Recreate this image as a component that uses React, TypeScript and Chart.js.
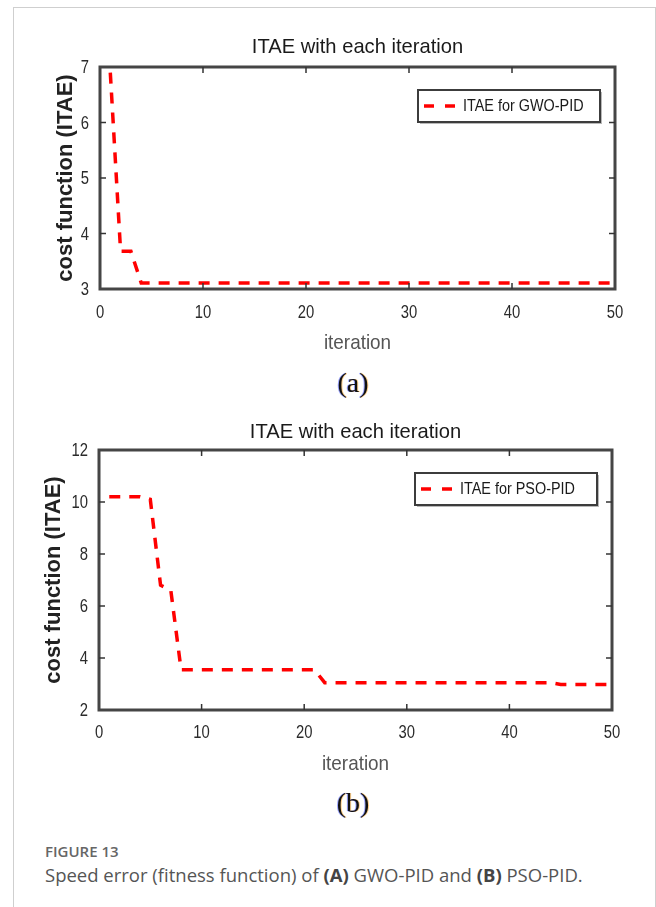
import React, { useEffect, useRef } from "react";
import { Chart, registerables } from "chart.js";

Chart.register(...registerables);

// ---------- data ----------
const iterations = [
  1, 2, 3, 4, 5, 6, 7, 8, 9, 10, 11, 12, 13, 14, 15, 16, 17, 18, 19, 20, 21, 22, 23, 24, 25,
  26, 27, 28, 29, 30, 31, 32, 33, 34, 35, 36, 37, 38, 39, 40, 41, 42, 43, 44, 45, 46, 47, 48, 49, 50,
];

const gwoValues = [
  6.9, 3.68, 3.68, 3.11, 3.11, 3.11, 3.11, 3.11, 3.11, 3.11,
  3.11, 3.11, 3.11, 3.11, 3.11, 3.11, 3.11, 3.11, 3.11, 3.11,
  3.11, 3.11, 3.11, 3.11, 3.11, 3.11, 3.11, 3.11, 3.11, 3.11,
  3.11, 3.11, 3.11, 3.11, 3.11, 3.11, 3.11, 3.11, 3.11, 3.11,
  3.11, 3.11, 3.11, 3.11, 3.11, 3.11, 3.11, 3.11, 3.11, 3.11,
];

const psoValues = [
  10.2, 10.2, 10.2, 10.2, 10.1, 6.8, 6.6, 3.55, 3.55, 3.55,
  3.55, 3.55, 3.55, 3.55, 3.55, 3.55, 3.55, 3.55, 3.55, 3.55,
  3.55, 3.05, 3.05, 3.05, 3.05, 3.05, 3.05, 3.05, 3.05, 3.05,
  3.05, 3.05, 3.05, 3.05, 3.05, 3.05, 3.05, 3.05, 3.05, 3.05,
  3.05, 3.05, 3.05, 3.05, 2.98, 2.98, 2.98, 2.98, 2.98, 2.98,
];

const xTickValues = [0, 10, 20, 30, 40, 50];
const gwoYTicks = [3, 4, 5, 6, 7];
const psoYTicks = [2, 4, 6, 8, 10, 12];

const chartTitle = "ITAE with each iteration";
const xAxisTitle = "iteration";
const yAxisTitle = "cost function (ITAE)";
const gwoLabel = "ITAE for GWO-PID";
const psoLabel = "ITAE for PSO-PID";
const panelLabels = ["(a)", "(b)"];
const figureLabel = "FIGURE 13";

// ---------- styling ----------
const SANS = "'Liberation Sans', Arial, sans-serif";
const RED = "#ff0000";

function scaledText(
  ctx: CanvasRenderingContext2D,
  text: string,
  x: number,
  y: number,
  font: string,
  sx: number,
  align: CanvasTextAlign,
  color: string
) {
  ctx.save();
  ctx.translate(x, y);
  ctx.scale(sx, 1);
  ctx.font = font;
  ctx.fillStyle = color;
  ctx.textAlign = align;
  ctx.textBaseline = "middle";
  ctx.fillText(text, 0, 0);
  ctx.restore();
}

const decorPlugin = {
  id: "decor",
  afterDraw(chart: any, _args: any, opts: any) {
    const { ctx, chartArea: a, scales } = chart;
    const xs = scales.x;
    const ys = scales.y;
    ctx.save();

    // title
    scaledText(ctx, opts.title, (a.left + a.right) / 2, opts.titleY, `21px ${SANS}`, 0.96, "center", "#1a1a1a");
    // x axis title
    scaledText(ctx, opts.xTitle, (a.left + a.right) / 2, a.bottom + opts.xTitleOffset, `21px ${SANS}`, 0.9, "center", "#555");

    // tick labels
    xs.ticks.forEach((t: any) => {
      const px = xs.getPixelForValue(t.value);
      scaledText(ctx, String(t.value), px, a.bottom + opts.xLabelOffset, `19px ${SANS}`, 0.78, "center", "#2b2b2b");
    });
    ys.ticks.forEach((t: any) => {
      const py = ys.getPixelForValue(t.value);
      scaledText(ctx, String(t.value), a.left - 11, py + 1, `19px ${SANS}`, 0.78, "right", "#2b2b2b");
    });

    // frame
    ctx.strokeStyle = "#454545";
    ctx.lineWidth = 3;
    ctx.strokeRect(a.left, a.top, a.right - a.left, a.bottom - a.top);

    // inward ticks on all four sides
    ctx.lineWidth = 1.5;
    ctx.strokeStyle = "#333";
    const seg = (x1: number, y1: number, x2: number, y2: number) => {
      ctx.beginPath();
      ctx.moveTo(x1, y1);
      ctx.lineTo(x2, y2);
      ctx.stroke();
    };
    xs.ticks.forEach((t: any) => {
      const px = xs.getPixelForValue(t.value);
      if (px <= a.left + 2 || px >= a.right - 2) return;
      seg(px, a.bottom, px, a.bottom - 6);
      seg(px, a.top, px, a.top + 6);
    });
    ys.ticks.forEach((t: any) => {
      const py = ys.getPixelForValue(t.value);
      if (py <= a.top + 2 || py >= a.bottom - 2) return;
      seg(a.left, py, a.left + 6, py);
      seg(a.right, py, a.right - 6, py);
    });

    // legend
    const ds = chart.data.datasets[0];
    const bw = 182;
    const bh = 32;
    const bx = a.right - opts.legendRight - bw;
    const by = a.top + opts.legendTop;
    ctx.fillStyle = "#b8b8b8";
    ctx.fillRect(bx + 2, by + 2, bw, bh);
    ctx.fillStyle = "#fff";
    ctx.fillRect(bx, by, bw, bh);
    ctx.strokeStyle = "#3c3c3c";
    ctx.lineWidth = 2;
    ctx.strokeRect(bx, by, bw, bh);
    ctx.strokeStyle = ds.borderColor;
    ctx.lineWidth = 3.5;
    ctx.setLineDash([10, 11]);
    seg(bx + 6, by + bh / 2, bx + 37, by + bh / 2);
    ctx.setLineDash([]);
    scaledText(ctx, ds.label, bx + 45, by + bh / 2 + 1, `16px ${SANS}`, 0.9, "left", "#1a1a1a");

    ctx.restore();
  },
};

type PanelProps = {
  top: number;
  height: number;
  values: number[];
  label: string;
  yTicks: number[];
  padRight: number;
  padTop: number;
  yAxisWidth: number;
  xAxisHeight: number;
  xLabelOffset: number;
  xTitleOffset: number;
  yTitlePad: number;
  titleY: number;
};

function Panel(p: PanelProps) {
  const ref = useRef<HTMLCanvasElement | null>(null);
  useEffect(() => {
    if (!ref.current) return;
    const yMin = p.yTicks[0];
    const yMax = p.yTicks[p.yTicks.length - 1];
    const chart = new Chart(ref.current, {
      type: "line",
      data: {
        datasets: [
          {
            label: p.label,
            data: iterations.map((it, i) => ({ x: it, y: p.values[i] })),
            borderColor: RED,
            borderWidth: 3.5,
            borderDash: [11, 9],
            borderCapStyle: "butt",
            pointRadius: 0,
            tension: 0,
            fill: false,
          },
        ],
      },
      options: {
        responsive: false,
        animation: false,
        devicePixelRatio: 1,
        layout: { padding: { left: 0, right: p.padRight, top: p.padTop, bottom: 0 } },
        plugins: {
          legend: { display: false },
          tooltip: { enabled: false },
          title: { display: false },
          decor: {
            title: chartTitle,
            xTitle: xAxisTitle,
            titleY: p.titleY,
            xLabelOffset: p.xLabelOffset,
            xTitleOffset: p.xTitleOffset,
            legendRight: 15,
            legendTop: 23,
          },
        } as any,
        scales: {
          x: {
            type: "linear",
            min: 0,
            max: 50,
            afterBuildTicks: (s: any) => {
              s.ticks = xTickValues.map((v) => ({ value: v }));
            },
            afterFit: (s: any) => {
              s.height = p.xAxisHeight;
            },
            grid: { display: false, drawTicks: false },
            border: { display: false },
            ticks: { display: false },
          },
          y: {
            type: "linear",
            min: yMin,
            max: yMax,
            afterBuildTicks: (s: any) => {
              s.ticks = p.yTicks.map((v) => ({ value: v }));
            },
            afterFit: (s: any) => {
              s.width = p.yAxisWidth;
            },
            grid: { display: false, drawTicks: false },
            border: { display: false },
            ticks: { display: false },
            title: {
              display: true,
              text: yAxisTitle,
              font: { family: SANS, size: 22, weight: "bold" },
              color: "#222",
              padding: { top: p.yTitlePad, bottom: 0 },
            },
          },
        },
      } as any,
      plugins: [decorPlugin as any],
    });
    return () => chart.destroy();
  }, []);
  return (
    <canvas
      ref={ref}
      width={656}
      height={p.height}
      style={{ position: "absolute", left: 0, top: p.top, width: 656, height: p.height, display: "block" }}
    />
  );
}

const centerText = (x: number, y: number): React.CSSProperties => ({
  position: "absolute",
  left: x,
  top: y,
  transform: "translate(-50%, -50%)",
  whiteSpace: "nowrap",
  lineHeight: 1,
});

const panelLabelStyle: React.CSSProperties = {
  font: "28px 'Liberation Serif', serif",
  color: "#111",
  textShadow: "-1px 0 rgba(40,60,255,0.45), 1px 0 rgba(255,150,0,0.45)",
};

export default function App() {
  return (
    <div
      style={{
        position: "absolute",
        left: 0,
        top: 0,
        width: 656,
        height: 907,
        overflow: "hidden",
        background: "#fff",
      }}
    >
      <div
        style={{
          position: "absolute",
          left: 13,
          top: 7,
          width: 643,
          height: 1000,
          border: "1px solid #cfcfcf",
          boxSizing: "border-box",
        }}
      />
      <Panel
        top={0}
        height={400}
        values={gwoValues}
        label={gwoLabel}
        yTicks={gwoYTicks}
        padRight={41}
        padTop={67}
        yAxisWidth={100}
        xAxisHeight={111}
        xLabelOffset={24}
        xTitleOffset={54}
        yTitlePad={53}
        titleY={47}
      />
      <Panel
        top={400}
        height={420}
        values={psoValues}
        label={psoLabel}
        yTicks={psoYTicks}
        padRight={44}
        padTop={50}
        yAxisWidth={99}
        xAxisHeight={110}
        xLabelOffset={23}
        xTitleOffset={54}
        yTitlePad={41}
        titleY={32}
      />
      <div style={{ ...centerText(353, 383), ...panelLabelStyle }}>{panelLabels[0]}</div>
      <div style={{ ...centerText(353, 803), ...panelLabelStyle }}>{panelLabels[1]}</div>
      <div
        style={{
          position: "absolute",
          left: 45,
          top: 842,
          font: "600 15px 'Open Sans', sans-serif",
          color: "#666",
          lineHeight: "19px",
          whiteSpace: "nowrap",
        }}
      >
        {figureLabel}
      </div>
      <div
        style={{
          position: "absolute",
          left: 45,
          top: 863,
          font: "18.5px 'Open Sans', sans-serif",
          color: "#555",
          lineHeight: "23px",
          whiteSpace: "nowrap",
        }}
      >
        Speed error (fitness function) of <b style={{ color: "#444" }}>(A)</b> GWO-PID and{" "}
        <b style={{ color: "#444" }}>(B)</b> PSO-PID.
      </div>
    </div>
  );
}
